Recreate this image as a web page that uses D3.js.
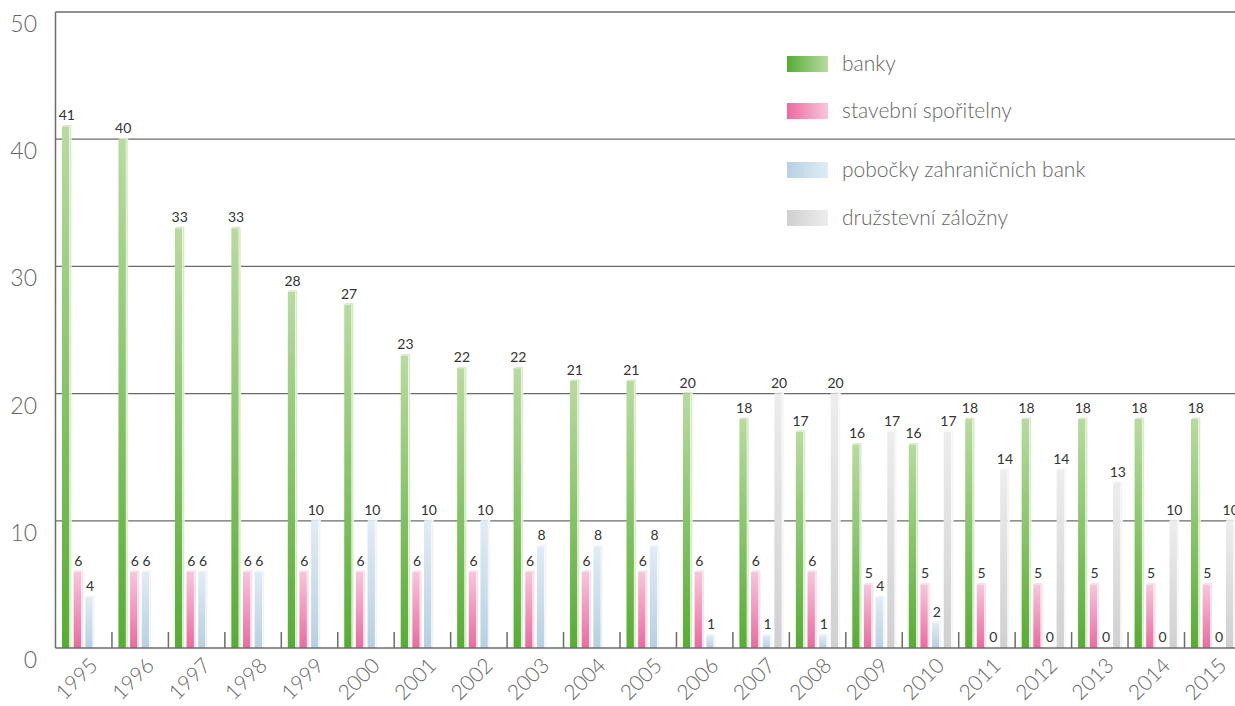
<!DOCTYPE html>
<html>
<head>
<meta charset="utf-8">
<script src="https://cdn.jsdelivr.net/npm/d3@7"></script>
<style>
  body { margin: 0; background: #fff; }
  svg { display: block; font-family: Lato, "DejaVu Sans", sans-serif; }
</style>
</head>
<body>
<div id="chart"></div>
<script>
const years = ["1995","1996","1997","1998","1999","2000","2001","2002","2003","2004","2005","2006","2007","2008","2009","2010","2011","2012","2013","2014","2015"];
const seriesNames = ["banky", "stavební spořitelny", "pobočky zahraničních bank", "družstevní záložny"];
const banky = [41,40,33,33,28,27,23,22,22,21,21,20,18,17,16,16,18,18,18,18,18];
const stavebni = [6,6,6,6,6,6,6,6,6,6,6,6,6,6,5,5,5,5,5,5,5];
const pobocky = [4,6,6,6,10,10,10,10,8,8,8,1,1,1,4,2,0,0,0,0,0];
const druzstevni = [null,null,null,null,null,null,null,null,null,null,null,null,20,20,17,17,14,14,13,10,10];
const yTicks = [0,10,20,30,40,50];

// dark / light gradient ends per series
const colors = [
  {dark: "#56ad33", light: "#b8dba0", side: "#d6ecc6"},
  {dark: "#ec6aa0", light: "#f8c6dc", side: "#fbdeea"},
  {dark: "#b6d1e2", light: "#e1ecf4", side: "#eef4f9"},
  {dark: "#d0d0d0", light: "#ededed", side: "#f5f5f5"}
];
const allSeries = [banky, stavebni, pobocky, druzstevni];

const W = 1235, H = 706;
const plotLeft = 55.5, plotBottom = 648, plotTop = 12;

const svg = d3.select("#chart").append("svg")
  .attr("width", W).attr("height", H);

const defs = svg.append("defs");
colors.forEach((c, i) => {
  const gv = defs.append("linearGradient").attr("id", "gv" + i)
    .attr("x1", 0).attr("y1", 1).attr("x2", 0).attr("y2", 0);
  gv.append("stop").attr("offset", "0%").attr("stop-color", c.dark);
  gv.append("stop").attr("offset", "100%").attr("stop-color", c.light);
  const gh = defs.append("linearGradient").attr("id", "gh" + i)
    .attr("x1", 0).attr("y1", 0).attr("x2", 1).attr("y2", 0);
  gh.append("stop").attr("offset", "0%").attr("stop-color", c.dark);
  gh.append("stop").attr("offset", "100%").attr("stop-color", c.light);
});

const x = d3.scaleBand().domain(years).range([plotLeft, plotLeft + 21 * 56.45]);
const xs = d3.scaleBand().domain(d3.range(4)).range([6.5, 51]).paddingInner(0.18);
const y = d3.scaleLinear().domain([0, 50]).range([plotBottom, plotTop]);

// gridlines
svg.append("g").selectAll("line").data(yTicks.filter(d => d > 0)).join("line")
  .attr("x1", plotLeft).attr("x2", W)
  .attr("y1", d => y(d)).attr("y2", d => y(d))
  .attr("stroke", "#6b6b6b").attr("stroke-width", 1.3);

// y labels (sit just below their gridline)
svg.append("g").selectAll("text").data(yTicks).join("text")
  .attr("x", 37).attr("y", d => y(d) + 20)
  .attr("text-anchor", "end")
  .attr("font-size", 23).attr("font-weight", 300).attr("fill", "#666")
  .text(d => d);

// bars
const bw = xs.bandwidth();
allSeries.forEach((vals, si) => {
  const g = svg.append("g");
  const data = years.map((yr, i) => ({yr, v: vals[i]})).filter(d => d.v !== null);
  const bx = d => x(d.yr) + xs(si);
  g.selectAll("rect.main").data(data.filter(d => d.v > 0)).join("rect")
    .attr("class", "main")
    .attr("x", d => bx(d)).attr("y", d => y(d.v))
    .attr("width", bw - 2).attr("height", d => plotBottom - y(d.v))
    .attr("fill", "url(#gv" + si + ")");
  g.selectAll("rect.side").data(data.filter(d => d.v > 0)).join("rect")
    .attr("class", "side")
    .attr("x", d => bx(d) + bw - 2).attr("y", d => y(d.v) - 1)
    .attr("width", 2).attr("height", d => plotBottom - y(d.v) + 1)
    .attr("fill", colors[si].side)
    .attr("stroke", "#fff").attr("stroke-width", 0.4);
  g.selectAll("path.cap").data(data.filter(d => d.v > 0)).join("path")
    .attr("class", "cap")
    .attr("d", d => {
      const x0 = bx(d), yt = y(d.v);
      return `M${x0},${yt} L${x0 + 1.5},${yt - 1.5} L${x0 + bw},${yt - 1.5} L${x0 + bw - 2},${yt} Z`;
    })
    .attr("fill", colors[si].side);
  g.selectAll("text").data(data).join("text")
    .attr("x", d => bx(d) + bw / 2)
    .attr("y", d => y(d.v) - 6)
    .attr("text-anchor", "middle")
    .attr("font-size", 14).attr("fill", "#333")
    .text(d => d.v);
});

// axes lines
svg.append("line").attr("x1", plotLeft).attr("x2", plotLeft).attr("y1", plotTop).attr("y2", plotBottom)
  .attr("stroke", "#6b6b6b").attr("stroke-width", 1.5);
svg.append("line").attr("x1", plotLeft).attr("x2", W).attr("y1", plotBottom).attr("y2", plotBottom)
  .attr("stroke", "#6b6b6b").attr("stroke-width", 1.5);
svg.append("g").selectAll("line").data(years.slice(1)).join("line")
  .attr("x1", d => x(d)).attr("x2", d => x(d))
  .attr("y1", plotBottom).attr("y2", plotBottom - 16)
  .attr("stroke", "#6b6b6b").attr("stroke-width", 1.5);

// x labels
svg.append("g").selectAll("text").data(years).join("text")
  .attr("transform", d => `translate(${x(d) + x.bandwidth() / 2 - 2},${plotBottom + 36}) rotate(-45)`)
  .attr("text-anchor", "middle")
  .attr("font-size", 21).attr("font-weight", 300).attr("fill", "#666")
  .text(d => d);

// legend
const legY = [64, 111, 170, 218];
const leg = svg.append("g");
seriesNames.forEach((name, i) => {
  leg.append("rect").attr("x", 787).attr("y", legY[i] - 8)
    .attr("width", 41).attr("height", 16)
    .attr("fill", "url(#gh" + i + ")");
  leg.append("text").attr("x", 842).attr("y", legY[i] + 7)
    .attr("font-size", 21).attr("font-weight", 300).attr("fill", "#666")
    .text(name);
});
</script>
</body>
</html>
